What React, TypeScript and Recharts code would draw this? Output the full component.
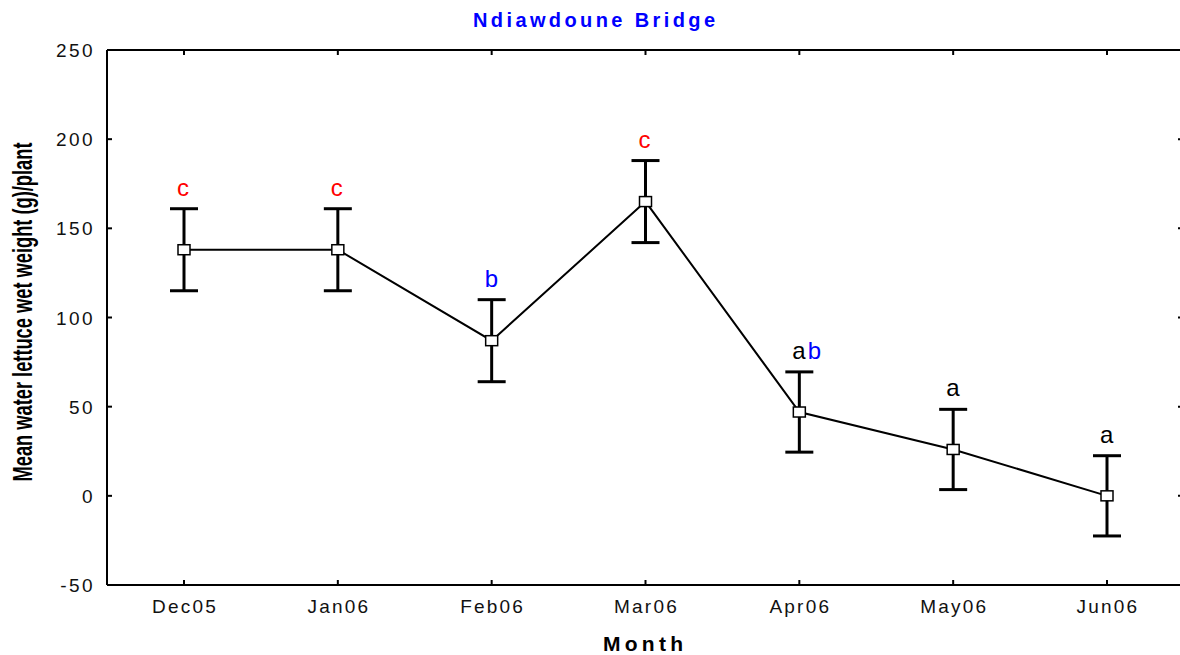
import { ComposedChart, Line, XAxis, YAxis, ErrorBar, ReferenceLine, LabelList } from 'recharts'

const months = ['Dec05', 'Jan06', 'Feb06', 'Mar06', 'Apr06', 'May06', 'Jun06']
const means = [138, 138, 87, 165, 47, 26, 0]
const errors = [23, 23, 23, 23, 22.5, 22.5, 22.5]
const letters = ['c', 'c', 'b', 'c', 'ab', 'a', 'a']
const yTicks = [-50, 0, 50, 100, 150, 200, 250]

const letterColors: Record<string, string> = { a: '#000000', b: '#0000ff', c: '#ff0000' }

const rows = months.map((m, i) => ({
  month: m,
  mean: means[i],
  err: errors[i],
  upper: means[i] + errors[i],
  letters: letters[i],
}))

const FONT = '"Liberation Sans", Arial, sans-serif'
const PLOT_TOP = 50
const PLOT_RIGHT = 1184

function XTick(props: any) {
  const { x, y, payload } = props
  return (
    <g>
      <line x1={x} x2={x} y1={y} y2={y - 5} stroke="#000" strokeWidth={2} />
      <line x1={x} x2={x} y1={PLOT_TOP} y2={PLOT_TOP + 5} stroke="#000" strokeWidth={2} />
      <text x={x + 1} y={y + 28} textAnchor="middle" fontSize={19} fontFamily={FONT} letterSpacing={2.2} fill="#111">
        {payload.value}
      </text>
    </g>
  )
}

function YTick(props: any) {
  const { x, y, payload } = props
  return (
    <g>
      <line x1={x} x2={x + 5} y1={y} y2={y} stroke="#000" strokeWidth={2} />
      <line x1={PLOT_RIGHT - 6} x2={PLOT_RIGHT} y1={y} y2={y} stroke="#000" strokeWidth={2} />
      <text x={x - 12} y={y + 7} textAnchor="end" fontSize={19} fontFamily={FONT} letterSpacing={2.4} fill="#111">
        {payload.value}
      </text>
    </g>
  )
}

function SquareDot(props: any) {
  const { cx, cy } = props
  if (cx == null || cy == null) return null
  return <rect x={cx - 6} y={cy - 5} width={12} height={10} fill="#fff" stroke="#000" strokeWidth={1.5} />
}

function LetterLabel(props: any) {
  const { x, y, value } = props
  return (
    <text x={x - 7} y={y - 13} fontSize={24} fontFamily={FONT} letterSpacing={2}>
      {String(value)
        .split('')
        .map((ch, i) => (
          <tspan key={i} fill={letterColors[ch]}>
            {ch}
          </tspan>
        ))}
    </text>
  )
}

export default function App() {
  return (
    <div style={{ position: 'absolute', left: 0, top: 0, width: 1180, height: 655, overflow: 'hidden', background: '#fff' }}>
      <ComposedChart width={1190} height={655} data={rows} margin={{ top: 50, right: 6, bottom: 30, left: 47 }}>
        <ReferenceLine y={250} stroke="#000" strokeWidth={2} />
        <XAxis
          dataKey="month"
          height={40}
          padding={{ left: 77, right: 77 }}
          interval={0}
          axisLine={{ stroke: '#000', strokeWidth: 2 }}
          tickLine={false}
          tickSize={0}
          tickMargin={0}
          tick={<XTick />}
        />
        <YAxis
          type="number"
          domain={[-50, 250]}
          ticks={yTicks}
          width={60}
          interval={0}
          axisLine={{ stroke: '#000', strokeWidth: 2 }}
          tickLine={false}
          tickSize={0}
          tickMargin={0}
          tick={<YTick />}
        />
        <Line dataKey="mean" stroke="#000" strokeWidth={2} dot={<SquareDot />} activeDot={false} isAnimationActive={false}>
          <ErrorBar dataKey="err" width={14} strokeWidth={3} stroke="#000" direction="y" />
        </Line>
        <Line dataKey="upper" stroke="none" dot={false} activeDot={false} isAnimationActive={false}>
          <LabelList dataKey="letters" content={<LetterLabel />} />
        </Line>
      </ComposedChart>
      <svg width={1180} height={655} style={{ position: 'absolute', left: 0, top: 0, pointerEvents: 'none' }}>
        <text x={594} y={27} textAnchor="middle" fontSize={20} fontWeight="bold" fontFamily={FONT} fill="#0000ff" textLength={242} lengthAdjust="spacing">
          Ndiawdoune Bridge
        </text>
        <text x={643} y={651} textAnchor="middle" fontSize={21} fontWeight="bold" fontFamily={FONT} fill="#000" textLength={80} lengthAdjust="spacing">
          Month
        </text>
        <text
          transform="translate(32, 312) rotate(-90)"
          textAnchor="middle"
          fontSize={27}
          fontWeight="bold"
          fontFamily={FONT}
          fill="#000"
          textLength={339}
          lengthAdjust="spacingAndGlyphs"
        >
          Mean water lettuce wet weight (g)/plant
        </text>
      </svg>
    </div>
  )
}
